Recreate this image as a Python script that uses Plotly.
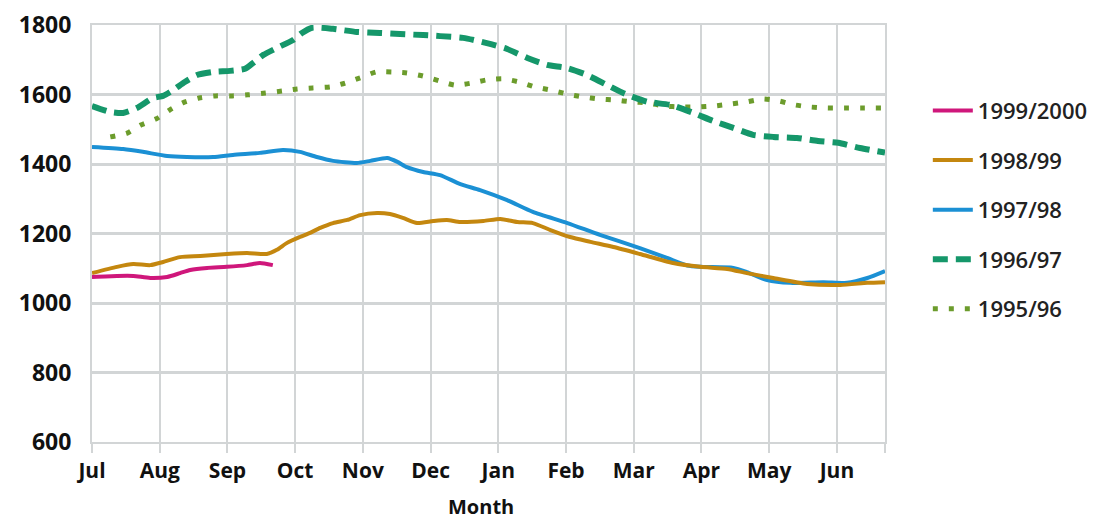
import plotly.graph_objects as go

# x positions are in months from the start of July (0 = Jul, 11 = Jun)
month_labels = ["Jul", "Aug", "Sep", "Oct", "Nov", "Dec", "Jan", "Feb", "Mar", "Apr", "May", "Jun"]

x_9900 = [0, 0.37, 0.61, 0.86, 1.11, 1.30, 1.45, 1.70, 1.99, 2.29, 2.48, 2.67]
y_9900 = [1075, 1078, 1078, 1072, 1075, 1086, 1095, 1101, 1104, 1109, 1115, 1109]

x_9899 = [0, 0.37, 0.61, 0.86, 1.05, 1.30, 1.60, 1.99, 2.29, 2.58, 2.73, 2.88, 3.07, 3.22,
          3.37, 3.56, 3.77, 3.96, 4.21, 4.40, 4.59, 4.80, 5.04, 5.24, 5.44, 5.78, 6.03, 6.28,
          6.51, 6.77, 7.06, 7.36, 7.70, 8.09, 8.58, 8.98, 9.38, 9.67, 10.06, 10.56, 11.05,
          11.45, 11.71]
y_9899 = [1086, 1104, 1112, 1109, 1118, 1132, 1135, 1141, 1144, 1141, 1153, 1173, 1190, 1202,
          1216, 1230, 1239, 1253, 1259, 1256, 1245, 1230, 1236, 1239, 1233, 1236, 1242, 1233,
          1230, 1210, 1190, 1176, 1161, 1141, 1115, 1104, 1098, 1086, 1072, 1055, 1052,
          1058, 1060]

x_9798 = [0, 0.46, 0.75, 1.11, 1.40, 1.79, 2.08, 2.48, 2.82, 3.07, 3.32, 3.56, 3.91, 4.11,
          4.36, 4.51, 4.65, 4.89, 5.14, 5.44, 5.73, 6.13, 6.51, 7.02, 7.50, 8.09, 8.49, 8.79,
          8.98, 9.47, 9.67, 9.97, 10.31, 10.80, 11.15, 11.45, 11.71]
y_9798 = [1449, 1443, 1435, 1423, 1420, 1420, 1426, 1432, 1440, 1435, 1420, 1409, 1403, 1409,
          1417, 1406, 1391, 1377, 1368, 1342, 1325, 1296, 1262, 1230, 1196, 1158, 1130, 1108,
          1104, 1101, 1089, 1066, 1058, 1060, 1058, 1072, 1092]

x_9697 = [0, 0.27, 0.46, 0.66, 0.90, 1.05, 1.20, 1.37, 1.55, 1.79, 2.04, 2.26, 2.38, 2.53,
          2.73, 2.97, 3.10, 3.25, 3.56, 3.91, 4.25, 4.55, 4.89, 5.14, 5.48, 5.83, 6.13, 6.43,
          6.72, 7.02, 7.31, 7.61, 7.87, 8.20, 8.54, 8.88, 9.17, 9.47, 9.76, 10.06, 10.41,
          10.72, 11.02, 11.34, 11.71]
y_9697 = [1567, 1550, 1547, 1561, 1590, 1596, 1613, 1636, 1656, 1665, 1668, 1674, 1691, 1714,
          1734, 1757, 1777, 1792, 1789, 1780, 1777, 1774, 1771, 1768, 1763, 1748, 1731, 1705,
          1685, 1676, 1656, 1627, 1602, 1579, 1570, 1547, 1524, 1504, 1484, 1478, 1475,
          1466, 1461, 1446, 1433]

x_9596 = [0.27, 0.52, 0.72, 0.95, 1.15, 1.34, 1.58, 1.82, 2.07, 2.30, 2.56, 2.81, 3.03, 3.26,
          3.52, 3.74, 3.96, 4.20, 4.43, 4.65, 4.89, 5.13, 5.36, 5.61, 5.83, 6.07, 6.31, 6.54,
          6.77, 7.00, 7.25, 7.49, 7.73, 7.96, 8.20, 8.45, 8.70, 8.94, 9.19, 9.44, 9.67, 9.91,
          10.15, 10.38, 10.61, 10.86, 11.11, 11.36, 11.65]
y_9596 = [1478, 1489, 1512, 1530, 1556, 1576, 1590, 1596, 1596, 1599, 1604, 1610, 1616, 1619,
          1622, 1633, 1648, 1665, 1665, 1662, 1653, 1639, 1627, 1633, 1642, 1645, 1636, 1622,
          1613, 1602, 1593, 1587, 1584, 1579, 1576, 1567, 1564, 1564, 1567, 1573, 1579, 1587,
          1581, 1570, 1564, 1561, 1561, 1561, 1561]

x_end = 11.71
grid = "#d2d5d6"
font_family = "Open Sans, Noto Sans, sans-serif"

fig = go.Figure()

# drawn bottom to top; legendrank puts the newest season on top of the legend
series = [
    ("1995/96", x_9596, y_9596, "#6c9c2c", 5, "5px,11px"),
    ("1996/97", x_9697, y_9697, "#15976a", 6, "15px,8px"),
    ("1997/98", x_9798, y_9798, "#1b90d4", 4, "solid"),
    ("1998/99", x_9899, y_9899, "#c4870f", 4, "solid"),
    ("1999/2000", x_9900, y_9900, "#cf177b", 4, "solid"),
]
for i, (name, xs, ys, color, width, dash) in enumerate(series):
    fig.add_trace(go.Scatter(
        x=xs, y=ys, name=name, mode="lines", legendgroup=name,
        legendrank=1000 - i * 10,
        line=dict(color=color, width=width, dash=dash, shape="spline", smoothing=0.6),
    ))

# page body has an 8px margin, so the figure is a little smaller than the window
fig.update_layout(
    width=1089, height=513,
    paper_bgcolor="white", plot_bgcolor="white",
    margin=dict(l=84, r=212, t=17, b=79, autoexpand=False),
    font=dict(family=font_family, color="#111"),
    legend=dict(
        x=1.054, y=0.845, xanchor="left", yanchor="top",
        traceorder="grouped", tracegroupgap=18,
        font=dict(size=22, color="#222", weight=600),
        itemwidth=40,
        bgcolor="rgba(0,0,0,0)",
    ),
)

fig.update_xaxes(
    range=[0, x_end], automargin=False,
    tickvals=list(range(12)) + [x_end],
    ticktext=month_labels + [""],
    tickfont=dict(size=21, family=font_family, weight="bold"),
    ticks="outside", ticklen=9, tickwidth=2, tickcolor=grid,
    showgrid=True, gridcolor=grid, gridwidth=2,
    showline=True, mirror=True, linecolor=grid, linewidth=2,
    zeroline=False,
)
fig.update_yaxes(
    range=[600, 1800], automargin=False,
    tickvals=[600, 800, 1000, 1200, 1400, 1600, 1800],
    tickfont=dict(size=23, family=font_family, weight="bold"),
    ticklabelstandoff=14,
    showgrid=True, gridcolor=grid, gridwidth=3,
    showline=True, mirror=True, linecolor=grid, linewidth=2,
    zeroline=False,
)

# axis title sits a little left of the plot centre in the original
fig.add_annotation(
    text="<b>Month</b>", xref="paper", yref="paper", x=0.49, y=-0.155,
    xanchor="center", yanchor="middle", showarrow=False,
    font=dict(size=20, color="#111"),
)

fig.write_html("out.html")
